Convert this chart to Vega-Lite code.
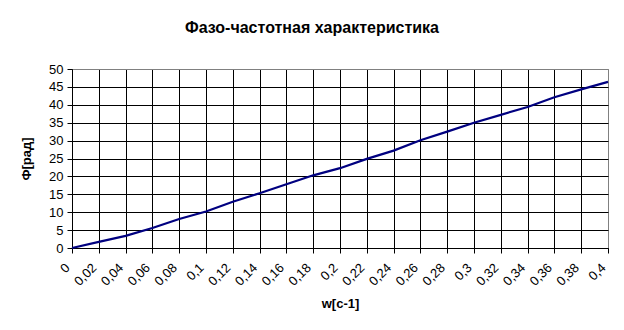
{
  "$schema": "https://vega.github.io/schema/vega-lite/v6.json",
  "width": 536,
  "height": 179,
  "autosize": {"type": "none"},
  "padding": {"left": 72, "top": 69, "right": 16, "bottom": 82},
  "background": "white",
  "title": {
    "text": "Фазо-частотная характеристика",
    "font": "Liberation Sans",
    "fontSize": 16,
    "fontWeight": "bold",
    "color": "black",
    "anchor": "middle",
    "dx": -28,
    "offset": 27
  },
  "config": {
    "view": {"stroke": "#808080", "strokeWidth": 1},
    "axis": {
      "labelFont": "Liberation Sans",
      "labelFontSize": 13,
      "labelColor": "black",
      "titleFont": "Liberation Sans",
      "titleFontSize": 13,
      "titleFontWeight": "bold",
      "titleColor": "black",
      "domainColor": "black",
      "tickColor": "black",
      "tickSize": 5,
      "gridOpacity": 1,
      "gridWidth": 1
    }
  },
  "data": {
    "values": [
      {"w": 0, "phi": 0},
      {"w": 0.02, "phi": 1.7},
      {"w": 0.04, "phi": 3.4},
      {"w": 0.06, "phi": 5.6},
      {"w": 0.08, "phi": 8.1},
      {"w": 0.1, "phi": 10.2},
      {"w": 0.12, "phi": 12.9},
      {"w": 0.14, "phi": 15.3},
      {"w": 0.16, "phi": 17.8},
      {"w": 0.18, "phi": 20.3},
      {"w": 0.2, "phi": 22.3},
      {"w": 0.22, "phi": 24.9},
      {"w": 0.24, "phi": 27.2},
      {"w": 0.26, "phi": 30.1},
      {"w": 0.28, "phi": 32.5},
      {"w": 0.3, "phi": 35},
      {"w": 0.32, "phi": 37.2},
      {"w": 0.34, "phi": 39.4},
      {"w": 0.36, "phi": 42.1},
      {"w": 0.38, "phi": 44.3},
      {"w": 0.4, "phi": 46.4}
    ]
  },
  "mark": {"type": "line", "color": "#000080", "strokeWidth": 2.2, "clip": false},
  "encoding": {
    "x": {
      "field": "w",
      "type": "quantitative",
      "scale": {"domain": [0, 0.4], "nice": false, "zero": false},
      "axis": {
        "title": "w[c-1]",
        "values": [0, 0.02, 0.04, 0.06, 0.08, 0.1, 0.12, 0.14, 0.16, 0.18, 0.2, 0.22, 0.24, 0.26, 0.28, 0.3, 0.32, 0.34, 0.36, 0.38, 0.4],
        "labelExpr": "replace(format(datum.value, '.2~f'), '.', ',')",
        "labelAngle": -45,
        "labelAlign": "right",
        "labelBaseline": "top",
        "labelPadding": 8,
        "labelOffset": -9,
        "labelOverlap": false,
        "labelFlush": false,
        "labelBound": false,
        "titlePadding": 9,
        "gridColor": {"condition": {"test": "datum.value > 0.39", "value": "#808080"}, "value": "black"}
      }
    },
    "y": {
      "field": "phi",
      "type": "quantitative",
      "scale": {"domain": [0, 50], "nice": false},
      "axis": {
        "title": "Ф[рад]",
        "values": [0, 5, 10, 15, 20, 25, 30, 35, 40, 45, 50],
        "labelPadding": 4,
        "labelFlush": false,
        "labelOverlap": false,
        "titlePadding": 15,
        "gridColor": {"condition": {"test": "datum.value > 49", "value": "#808080"}, "value": "black"}
      }
    }
  }
}
